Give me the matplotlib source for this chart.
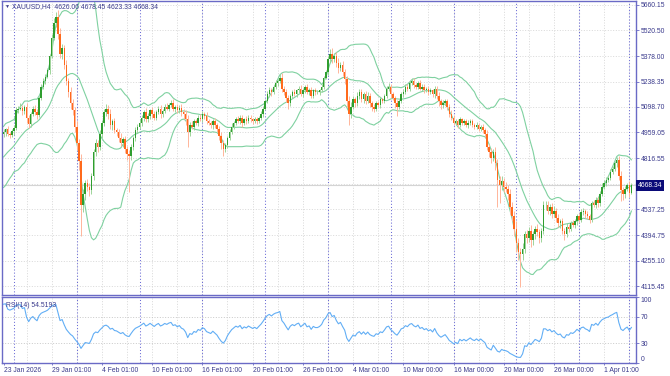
import numpy as np
import pandas as pd
import matplotlib
matplotlib.use("Agg")
import matplotlib.pyplot as plt
from matplotlib.transforms import blended_transform_factory

# ---------------- data ----------------
warmup_closes = [4680, 4700, 4690, 4720, 4740, 4730, 4760, 4780, 4770, 4800,
                 4830, 4820, 4850, 4870, 4860, 4890, 4910, 4930, 4920, 4950]

closes = [
    4960, 4975, 4950, 4945, 4965, 4985, 5080, 5090, 5095, 5075,
    5100, 5040, 5005, 5060, 5090, 5070, 5055, 5150, 5210, 5240,
    5265, 5300, 5380, 5480, 5560, 5590, 5500, 5390, 5420, 5330,
    5240, 5180, 5120, 5080, 4990, 4900, 4800, 4560, 4620, 4680,
    4660, 4640, 4720, 4850, 4900, 4880, 4950, 5010, 5070, 5090,
    5060, 5000, 5020, 4970, 4960, 4930, 4900, 4920, 4870, 4840,
    4830, 4880, 4930, 4970, 4990, 5010, 5040, 5070, 5030, 5050,
    5080, 5060, 5040, 5070, 5090, 5060, 5075, 5100, 5090, 5110,
    5120, 5090, 5100, 5080, 5095, 5070, 5060, 5030, 4960, 5000,
    4990, 5020, 5010, 5040, 5030, 5060, 5050, 5020, 5010, 5000,
    5020, 5000, 4980, 4940, 4900, 4870, 4890, 4930, 4960, 4990,
    5010, 5030, 5020, 5040, 5010, 5030, 5020, 5040, 5030, 5020,
    5030, 5020, 5040, 5060, 5090, 5130, 5170, 5190, 5180, 5210,
    5230, 5240, 5260, 5200, 5180, 5150, 5120, 5160, 5180, 5170,
    5190, 5200, 5170, 5190, 5210, 5180, 5190, 5160, 5190, 5180,
    5180, 5190, 5210, 5260, 5290, 5360, 5390, 5360, 5380, 5340,
    5310, 5330, 5290, 5250, 5130, 5060, 5100, 5140, 5120, 5160,
    5180, 5140, 5170, 5130, 5160, 5120, 5100, 5090, 5120, 5110,
    5140, 5130, 5160, 5200, 5210, 5170, 5150, 5120, 5100, 5130,
    5170, 5180, 5210, 5200, 5230, 5240, 5220, 5210, 5230, 5200,
    5210, 5190, 5200, 5180, 5190, 5170, 5200, 5160, 5130, 5110,
    5120, 5130, 5100, 5060, 5040, 5010, 5020, 5000, 5030, 5010,
    5020, 5000, 5010, 5020, 5000, 4990, 5000, 4980, 4990, 4970,
    4950, 4880, 4850, 4820, 4850, 4790, 4700, 4670, 4690, 4660,
    4650, 4620, 4550, 4500, 4430, 4350, 4300, 4290, 4320, 4400,
    4380, 4420, 4370, 4400, 4430, 4410, 4380, 4420, 4560, 4560,
    4530, 4550, 4510, 4530, 4490, 4460, 4470, 4420, 4400, 4440,
    4430, 4460, 4450, 4470, 4500, 4480, 4520, 4530, 4510, 4500,
    4480, 4570, 4560, 4590, 4570, 4620, 4660, 4680, 4700, 4710,
    4740, 4760, 4790, 4810, 4720, 4640, 4620, 4650, 4670, 4626.06,
    4668.34,
]

wick_up = [
    15, 10, 20, 12, 10, 15, 20, 12, 25, 15,
    10, 20, 15, 10, 12, 20, 15, 10, 15, 20,
    12, 15, 10, 20, 25, 30, 40, 30, 25, 20,
    25, 20, 30, 25, 20, 30, 25, 40, 30, 20,
    25, 20, 15, 20, 25, 15, 20, 15, 20, 25,
    20, 25, 15, 20, 15, 20, 25, 15, 20, 15,
    20, 15, 10, 20, 15, 20, 15, 10, 25, 15,
    10, 20, 15, 10, 15, 20, 12, 15, 20, 10,
    15, 20, 10, 15, 12, 20, 15, 20, 25, 15,
    20, 10, 15, 12, 20, 15, 10, 20, 15, 12,
    15, 20, 10, 15, 20, 15, 12, 10, 15, 20,
    10, 15, 20, 12, 15, 10, 20, 15, 12, 10,
    15, 12, 10, 15, 12, 10, 15, 20, 12, 10,
    15, 10, 20, 25, 15, 20, 15, 10, 12, 15,
    10, 15, 20, 12, 10, 15, 12, 20, 10, 15,
    12, 10, 15, 10, 12, 20, 25, 30, 15, 20,
    25, 15, 20, 15, 20, 30, 25, 20, 15, 20,
    15, 20, 12, 15, 20, 15, 10, 15, 12, 10,
    15, 10, 12, 15, 20, 15, 12, 10, 15, 12,
    10, 15, 12, 15, 10, 20, 15, 12, 10, 15,
    12, 15, 10, 12, 15, 10, 12, 15, 20, 12,
    15, 10, 12, 15, 20, 12, 10, 15, 12, 10,
    12, 10, 15, 10, 12, 10, 15, 12, 10, 15,
    12, 20, 15, 25, 20, 30, 25, 20, 30, 20,
    25, 20, 30, 25, 30, 40, 30, 25, 30, 20,
    25, 20, 30, 20, 15, 25, 20, 15, 20, 25,
    20, 15, 20, 25, 15, 20, 15, 20, 15, 20,
    15, 10, 20, 15, 12, 15, 20, 15, 10, 15,
    12, 15, 20, 15, 12, 15, 20, 15, 12, 15,
    20, 15, 12, 15, 20, 25, 20, 15, 12, 20,
    10.11,
]

wick_dn = [
    15, 20, 12, 15, 10, 20, 12, 15, 10, 20,
    15, 30, 20, 15, 10, 15, 20, 10, 15, 12,
    15, 10, 20, 15, 12, 20, 30, 25, 30, 25,
    20, 25, 30, 25, 30, 40, 50, 170, 40, 30,
    25, 30, 20, 25, 20, 30, 15, 20, 15, 20,
    25, 20, 30, 15, 20, 25, 15, 20, 25, 30,
    200, 20, 15, 20, 15, 10, 15, 20, 15, 12,
    15, 20, 12, 15, 10, 20, 15, 12, 10, 15,
    12, 15, 20, 15, 12, 20, 25, 30, 80, 20,
    15, 20, 12, 15, 10, 15, 20, 15, 12, 15,
    20, 15, 20, 25, 30, 40, 20, 15, 12, 10,
    15, 12, 10, 15, 20, 12, 15, 10, 12, 15,
    12, 15, 10, 12, 15, 10, 12, 15, 20, 12,
    10, 15, 12, 20, 15, 25, 30, 15, 12, 10,
    15, 12, 10, 15, 12, 10, 15, 12, 10, 15,
    12, 15, 10, 12, 10, 15, 12, 20, 15, 20,
    25, 15, 20, 25, 30, 60, 20, 15, 20, 15,
    20, 15, 20, 15, 12, 20, 25, 20, 15, 12,
    15, 12, 10, 12, 15, 20, 15, 25, 50, 15,
    12, 15, 10, 15, 12, 10, 15, 12, 15, 10,
    15, 12, 10, 15, 12, 15, 20, 15, 25, 20,
    15, 12, 20, 15, 12, 10, 12, 15, 10, 12,
    10, 12, 15, 10, 12, 15, 10, 12, 15, 12,
    15, 20, 25, 30, 20, 40, 150, 100, 25, 30,
    20, 30, 40, 30, 40, 50, 40, 180, 30, 25,
    30, 25, 40, 30, 25, 20, 30, 25, 20, 25,
    20, 25, 20, 15, 25, 20, 25, 20, 30, 15,
    20, 15, 12, 15, 20, 15, 12, 15, 20, 15,
    20, 15, 12, 15, 20, 15, 12, 10, 15, 12,
    15, 12, 15, 20, 25, 60, 30, 20, 15, 20,
    2.73,
]

date_labels = ["23 Jan 2026", "29 Jan 01:00", "4 Feb 01:00", "10 Feb 01:00",
               "16 Feb 01:00", "20 Feb 01:00", "26 Feb 01:00", "4 Mar 01:00",
               "10 Mar 00:00", "16 Mar 00:00", "20 Mar 00:00", "26 Mar 00:00",
               "1 Apr 01:00"]
date_label_bars = [0, 23, 47, 71, 95, 119, 143, 167, 191, 215, 239, 263, 287]
separator_bars = [5, 35, 65, 95, 125, 155, 185, 215, 245, 275, 299]
grid_bars = [11, 23, 35, 47, 59, 71, 83, 95, 107, 119, 131, 143, 155, 167,
             179, 191, 203, 215, 227, 239, 251, 263, 275, 287, 299]
price_ticks = [5660.15, 5520.50, 5378.00, 5238.35, 5098.70, 4959.05,
               4816.55, 4676.90, 4537.25, 4394.75, 4255.10, 4115.45]
rsi_ticks = [100, 70, 30, 0]
rsi_levels = [70, 30]
symbol = "XAUUSD,H4"
last_ohlc = [4626.06, 4678.45, 4623.33, 4668.34]
rsi_period = 14
bb_period = 20
bb_dev = 2.0

# ---------------- computations ----------------
all_c = pd.Series(warmup_closes + closes, dtype=float)
mid = all_c.rolling(bb_period).mean()
sd = all_c.rolling(bb_period).std(ddof=0)
up = mid + bb_dev * sd
lo = mid - bb_dev * sd
delta = all_c.diff()
gain = delta.clip(lower=0)
loss = -delta.clip(upper=0)
ag = gain.ewm(alpha=1 / rsi_period, adjust=False).mean()
al = loss.ewm(alpha=1 / rsi_period, adjust=False).mean()
rsi = 100 - 100 / (1 + ag / al)

nw = len(warmup_closes)
c = np.array(closes, dtype=float)
o = np.array([warmup_closes[-1]] + closes[:-1], dtype=float)
o[-1] = last_ohlc[0]
hi = np.maximum(o, c) + np.array(wick_up)
lw = np.minimum(o, c) - np.array(wick_dn)
x = np.arange(len(c))
mid_v = mid.values[nw:]
up_v = up.values[nw:]
lo_v = lo.values[nw:]
rsi_v = rsi.values[nw:]

# ---------------- styling ----------------
plt.rcParams['font.family'] = ['Liberation Sans', 'DejaVu Sans']
FRAME = "#6a6ac6"
TXT = "#3a3a8c"
SEP = "#6c6cd6"
GRID = "#d2d2d2"
BULL = "#2f9e2f"
BEAR = "#ff6a1c"
BULL_W = "#9fd49a"
BEAR_W = "#ffb59a"
BAND = "#7fd1a0"
RSI_C = "#62aef5"
FS = 4.9

fig = plt.figure(figsize=(6.7, 3.76), dpi=100)
W, H = 670.0, 376.0
ax = fig.add_axes([2 / W, 1 - 295 / H, 634 / W, 294 / H])
ax2 = fig.add_axes([2 / W, 1 - 363 / H, 634 / W, 66 / H])

xl = (-0.74, 302.2)
for a in (ax, ax2):
    a.set_xlim(*xl)
    for s in a.spines.values():
        s.set_color(FRAME)
        s.set_linewidth(1.0)
    a.set_facecolor("white")

ax.set_ylim(4066.1, 5680.5)
ax2.set_ylim(0, 100)

dot = (0, (1.2, 2.0))
sdot = (0, (1.0, 2.0))
# grids
for p in price_ticks:
    ax.axhline(p, color=GRID, lw=0.6, ls=dot, zorder=0)
for g in grid_bars:
    ax.axvline(g, color=GRID, lw=0.6, ls=dot, zorder=0)
    ax2.axvline(g, color=GRID, lw=0.6, ls=dot, zorder=0)
for lv in rsi_levels:
    ax2.axhline(lv, color="#c0c0c0", lw=0.6, ls=dot, zorder=0)
for s_ in separator_bars:
    ax.axvline(s_, color=SEP, lw=0.75, ls=sdot, zorder=1)
    ax2.axvline(s_, color=SEP, lw=0.75, ls=sdot, zorder=1)

# current price line
ax.axhline(last_ohlc[3], color="#d4d4d4", lw=0.8, zorder=1)

# bands
ax.plot(x, up_v, color=BAND, lw=0.8, zorder=2)
ax.plot(x, mid_v, color=BAND, lw=0.8, zorder=2)
ax.plot(x, lo_v, color=BAND, lw=0.8, zorder=2)

# candles
bull = c >= o
ax.vlines(x, lw, hi, colors=np.where(bull, BULL_W, BEAR_W), linewidth=0.7, zorder=3)
body_h = np.maximum(np.abs(c - o), 3)
ax.bar(x, body_h, bottom=np.minimum(o, c), width=0.7,
       color=np.where(bull, BULL, BEAR), linewidth=0, zorder=4)

# RSI
ax2.plot(x, rsi_v, color=RSI_C, lw=0.8, zorder=3)

# ticks
ax.set_xticks([])
ax.yaxis.tick_right()
ax.set_yticks(price_ticks)
ax.set_yticklabels(["%.2f" % p if abs(p - 4676.90) > 1 else "" for p in price_ticks])
ax.tick_params(axis='y', length=2, width=0.6, color=FRAME, pad=1.5,
               labelsize=FS, labelcolor=TXT)

ax2.yaxis.tick_right()
ax2.set_yticks(rsi_ticks)
ax2.set_yticklabels([str(v) for v in rsi_ticks])
ax2.tick_params(axis='y', length=2, width=0.6, color=FRAME, pad=1.5,
                labelsize=FS, labelcolor=TXT)
for t, v in zip(ax2.get_yticklabels(), rsi_ticks):
    if v == 100:
        t.set_va('top')
    elif v == 0:
        t.set_va('bottom')

ax2.set_xticks(date_label_bars)
ax2.set_xticklabels(date_labels)
ax2.tick_params(axis='x', length=1.5, width=0.6, color=FRAME, pad=1.2,
                labelsize=FS, labelcolor=TXT)
for t in ax2.get_xticklabels():
    t.set_ha('left')

# texts
fig.text(5 / W, 1 - 6.5 / H, "\u25bc", fontsize=3.6, color=TXT, va='center', ha='left')
fig.text(12 / W, 1 - 6.5 / H,
         "%s  %.2f %.2f %.2f %.2f" % (symbol, *last_ohlc),
         fontsize=FS, color=TXT, va='center', ha='left')
ax2.text(0.006, 0.93, "RSI(14) %.4f" % 54.5193, transform=ax2.transAxes,
         fontsize=FS, color=TXT, va='top', ha='left')

tr = blended_transform_factory(ax.transAxes, ax.transData)
ax.text(1.003, last_ohlc[3], "%.2f" % last_ohlc[3], transform=tr, fontsize=FS,
        color="white", va='center', ha='left', clip_on=False, zorder=10,
        bbox=dict(boxstyle="square,pad=0.25", fc="#0a0a78", ec="none"))

fig.savefig("out.png", dpi=100)
